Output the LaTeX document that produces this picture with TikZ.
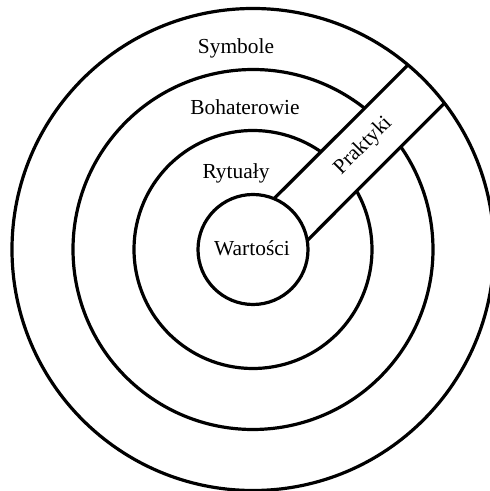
\documentclass[tikz,border=0pt]{standalone}
\usepackage{fontspec}
\setmainfont{Liberation Serif}
\usetikzlibrary{positioning}

\begin{document}
\begin{tikzpicture}[
  x=0.5pt, y=0.5pt,
  font=\fontsize{10.7}{12}\selectfont,
  % styles
  ring/.style={line width=1.6pt, draw=black},
  layer/.style={inner sep=0pt, text=black}
]

% frame of the picture (outer ring is cut on the right)
\useasboundingbox (-253,-241.5) rectangle (236,249.5);

% ------------------------------------------------------------
% Rings: full core and outer ring, two middle rings open for the band
% ------------------------------------------------------------
\draw[ring] (0,0) circle[radius=55];
\draw[ring] (0,0) circle[radius=241];
\draw[ring] (55.2:119) arc[start angle=55.2, end angle=389.4, radius=119];
\draw[ring] (51.7:180) arc[start angle=51.7, end angle=394.8, radius=180];

% ------------------------------------------------------------
% Band "Praktyki" from the core to the outer ring
% ------------------------------------------------------------
\coordinate (band-ul-in)  at (67.5:55);
\coordinate (band-ul-out) at (50.0:241);
\coordinate (band-lr-in)  at (9.4:55);
\coordinate (band-lr-out) at (37.4:241);

\draw[ring] (band-ul-in) -- (band-ul-out);
\draw[ring] (band-lr-in) -- (band-lr-out);

% ------------------------------------------------------------
% Labels
% ------------------------------------------------------------
\node[layer] (symbole)     at (-17,201)   {Symbole};
\node[layer] (bohaterowie) at (-8,142)    {Bohaterowie};
\node[layer] (rytualy)     at (-17,76)    {Rytuały};
\node[layer] (wartosci)    at (-1,1)      {Wartości};
\node[layer, rotate=45] (praktyki) at (110.3,103.5) {Praktyki};

\end{tikzpicture}
\end{document}
